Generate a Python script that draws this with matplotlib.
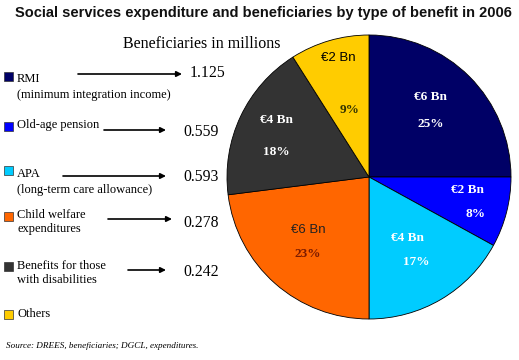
import matplotlib.pyplot as plt

categories = ['RMI', 'Old-age pension', 'APA', 'Child welfare', 'Disabilities', 'Others']
shares = [25, 8, 17, 23, 18, 9]
spend = ['€6 Bn', '€2 Bn', '€4 Bn', '€6 Bn', '€4 Bn', '€2 Bn']
colors = ['#000066', '#0000ff', '#00ccff', '#ff6600', '#333333', '#ffcc00']
beneficiaries = ['1.125', '0.559', '0.593', '0.278', '0.242']
legend_text = ['RMI\n(minimum integration income)', 'Old-age pension',
               'APA\n(long-term care allowance)', 'Child welfare\nexpenditures',
               'Benefits for those\nwith disabilities', 'Others']

W, H = 519, 360
fig = plt.figure(figsize=(W / 100, H / 100), dpi=100)
ax = fig.add_axes([0, 0, 1, 1])

def Y(y):
    return H - y

# pie
ax.pie(shares, colors=colors, startangle=90, counterclock=False,
       center=(369, Y(177)), radius=142,
       wedgeprops=dict(edgecolor='black', linewidth=0.6))
ax.set_xlim(0, W)
ax.set_ylim(0, H)
ax.set_aspect('auto')
ax.axis('off')

serif = 'Liberation Serif'
sans = 'Liberation Sans'

# labels inside slices
lab_pos = [(430, 97, 431, 124), (467, 190, 475, 214), (407, 238, 416, 262),
           (308, 230, 308, 254), (276, 120, 276, 152), (338, 58, 350, 110)]
bn_col = ['white', 'white', 'white', '#222222', 'white', 'black']
pct_col = ['white', 'white', 'white', '#7a1a00', 'white', '#333300']
bn_font = [serif, serif, serif, sans, serif, sans]
for i, (xb, yb, xp, yp) in enumerate(lab_pos):
    ax.text(xb, Y(yb), spend[i], color=bn_col[i], family=bn_font[i],
            fontsize=9.5, fontweight='bold' if bn_font[i] == serif else 'normal',
            ha='center', va='center')
    ax.text(xp, Y(yp), f'{shares[i]}%', color=pct_col[i], family=serif,
            fontsize=9.5, fontweight='bold', ha='center', va='center')

# title
ax.text(263, Y(13), 'Social services expenditure and beneficiaries by type of benefit in 2006',
        family=sans, fontweight='bold', fontsize=10.5, ha='center', va='center', color='#111111')
ax.text(123, Y(44), 'Beneficiaries in millions', family=serif, fontsize=11.5,
        ha='left', va='center')

# legend squares and text
sq_y = [76, 126, 170, 216, 266, 314]
txt_y = [86, 125, 181, 222, 273, 314]
for i in range(6):
    ax.add_patch(plt.Rectangle((4, Y(sq_y[i]) - 4.5), 9, 9, facecolor=colors[i],
                               edgecolor='#333333', linewidth=0.5))
    lines = legend_text[i].split('\n')
    if len(lines) == 2 and i in (0, 2):
        ax.text(17, Y(txt_y[i] - 7), lines[0], family=serif, fontsize=9, va='center')
        ax.text(17, Y(txt_y[i] + 9), lines[1], family=serif, fontsize=9, va='center')
    else:
        ax.text(17, Y(txt_y[i]), legend_text[i], family=serif, fontsize=9,
                va='center', linespacing=1.15)

# arrows and beneficiary values
arr = [(78, 182, 74), (104, 166, 130), (63, 166, 176), (108, 172, 219), (128, 166, 270)]
val_pos = [(190, 73), (183, 132), (183, 177), (183, 223), (183, 272)]
for i, (x0, x1, y) in enumerate(arr):
    ax.annotate('', xy=(x1, Y(y)), xytext=(x0, Y(y)),
                arrowprops=dict(arrowstyle='-|>', color='black', lw=1.2,
                                mutation_scale=8, shrinkA=0, shrinkB=0))
    ax.text(val_pos[i][0], Y(val_pos[i][1]), beneficiaries[i], family=serif,
            fontsize=11.3, va='center', ha='left')

ax.text(6, Y(346), 'Source: DREES, beneficiaries; DGCL, expenditures.', family=serif,
        style='italic', fontsize=6.6, va='center')

fig.savefig('out.png', dpi=100)
